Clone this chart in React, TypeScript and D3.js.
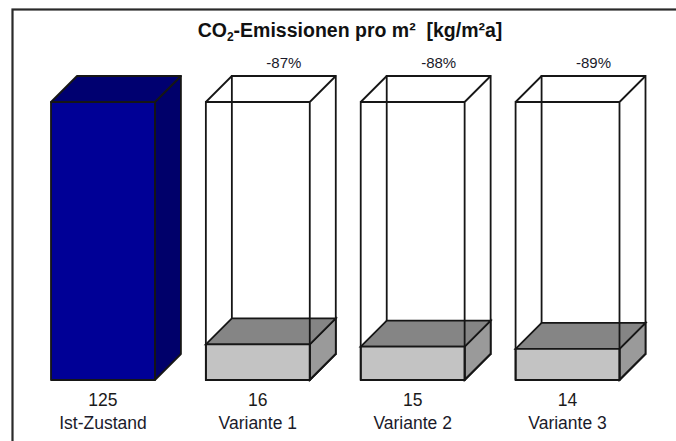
import React from "react";
import * as d3 from "d3";

// CO2 emissions per m² for the current state and three renovation variants
const categories = ["Ist-Zustand", "Variante 1", "Variante 2", "Variante 3"];
const values = [125, 16, 15, 14];
const reductionLabels = ["", "-87%", "-88%", "-89%"];

const W = 676;
const H = 441;
const DX = 26; // oblique depth offset of the 3D boxes
const DY = 26;

export default function App() {
  const x = d3
    .scaleBand<string>()
    .domain(categories)
    .range([51, 619.5])
    .paddingInner(0.329)
    .paddingOuter(0);
  const y = d3.scaleLinear().domain([0, 125]).range([380, 102]);
  const bw = x.bandwidth();
  const base = values[0];

  const font = "'Liberation Sans', Arial, sans-serif";
  const edge = "#161616";
  const sw = 1.8;

  const box = (x0: number, yTop: number, yBot: number) => {
    const x1 = x0 + bw;
    return {
      front: `M${x0},${yTop}H${x1}V${yBot}H${x0}Z`,
      top: `M${x0},${yTop}L${x0 + DX},${yTop - DY}H${x1 + DX}L${x1},${yTop}Z`,
      side: `M${x1},${yTop}L${x1 + DX},${yTop - DY}V${yBot - DY}L${x1},${yBot}Z`,
    };
  };

  return (
    <svg
      width={W}
      height={H}
      style={{ position: "absolute", left: 0, top: 0, background: "#fff" }}
    >
      {/* frame, running off the right and bottom edges */}
      <rect x={12.5} y={9.5} width={W + 20} height={H + 20} fill="none" stroke="#2a2a2a" strokeWidth={2.2} />

      <text
        x={350}
        y={37}
        textAnchor="middle"
        fontFamily={font}
        fontWeight="bold"
        fontSize={19.5}
        fill="#111"
        style={{ whiteSpace: "pre" }}
      >
        CO<tspan fontSize={12} dy={4}>2</tspan>
        <tspan dy={-4}>{"-Emissionen pro m²  [kg/m²a]"}</tspan>
      </text>

      {categories.map((c, i) => {
        const x0 = x(c)!;
        const x1 = x0 + bw;
        const yb = y(0);
        const v = values[i];
        const cx = x0 + bw / 2;

        let marks: React.ReactNode;
        if (i === 0) {
          const b = box(x0, y(v), yb);
          marks = (
            <g stroke={edge} strokeWidth={sw} strokeLinejoin="round">
              <path d={b.side} fill="#00006a" />
              <path d={b.top} fill="#000070" />
              <path d={b.front} fill="#000096" />
            </g>
          );
        } else {
          const yt = y(base);
          const b = box(x0, y(v), yb);
          marks = (
            <g fill="none" stroke={edge} strokeWidth={sw}>
              {/* hidden/back edges of the outline box at the reference height */}
              <path
                d={`M${x0 + DX},${yb - DY}V${yt - DY}H${x1 + DX}V${yb - DY}H${x0 + DX}M${x0},${yb}L${x0 + DX},${yb - DY}`}
              />
              {/* solid box for the variant value */}
              <path d={b.side} fill="#9a9a9a" />
              <path d={b.top} fill="#858585" />
              <path d={b.front} fill="#c3c3c3" />
              {/* front edges of the outline box */}
              <path
                d={`M${x0},${yb}V${yt}H${x1}V${yb}M${x0},${yt}L${x0 + DX},${yt - DY}M${x1},${yt}L${x1 + DX},${yt - DY}M${x1},${yb}L${x1 + DX},${yb - DY}`}
              />
            </g>
          );
        }

        return (
          <g key={c}>
            {marks}
            {reductionLabels[i] && (
              <text
                x={cx + DX}
                y={y(base) - DY - 8}
                textAnchor="middle"
                fontFamily={font}
                fontSize={15}
                fill="#1a1a2a"
              >
                {reductionLabels[i]}
              </text>
            )}
            <text x={cx} y={406} textAnchor="middle" fontFamily={font} fontSize={17.5} fill="#1a1a1a">
              {v}
            </text>
            <text x={cx} y={429} textAnchor="middle" fontFamily={font} fontSize={17.5} fill="#1a1a2a">
              {c}
            </text>
          </g>
        );
      })}
    </svg>
  );
}
